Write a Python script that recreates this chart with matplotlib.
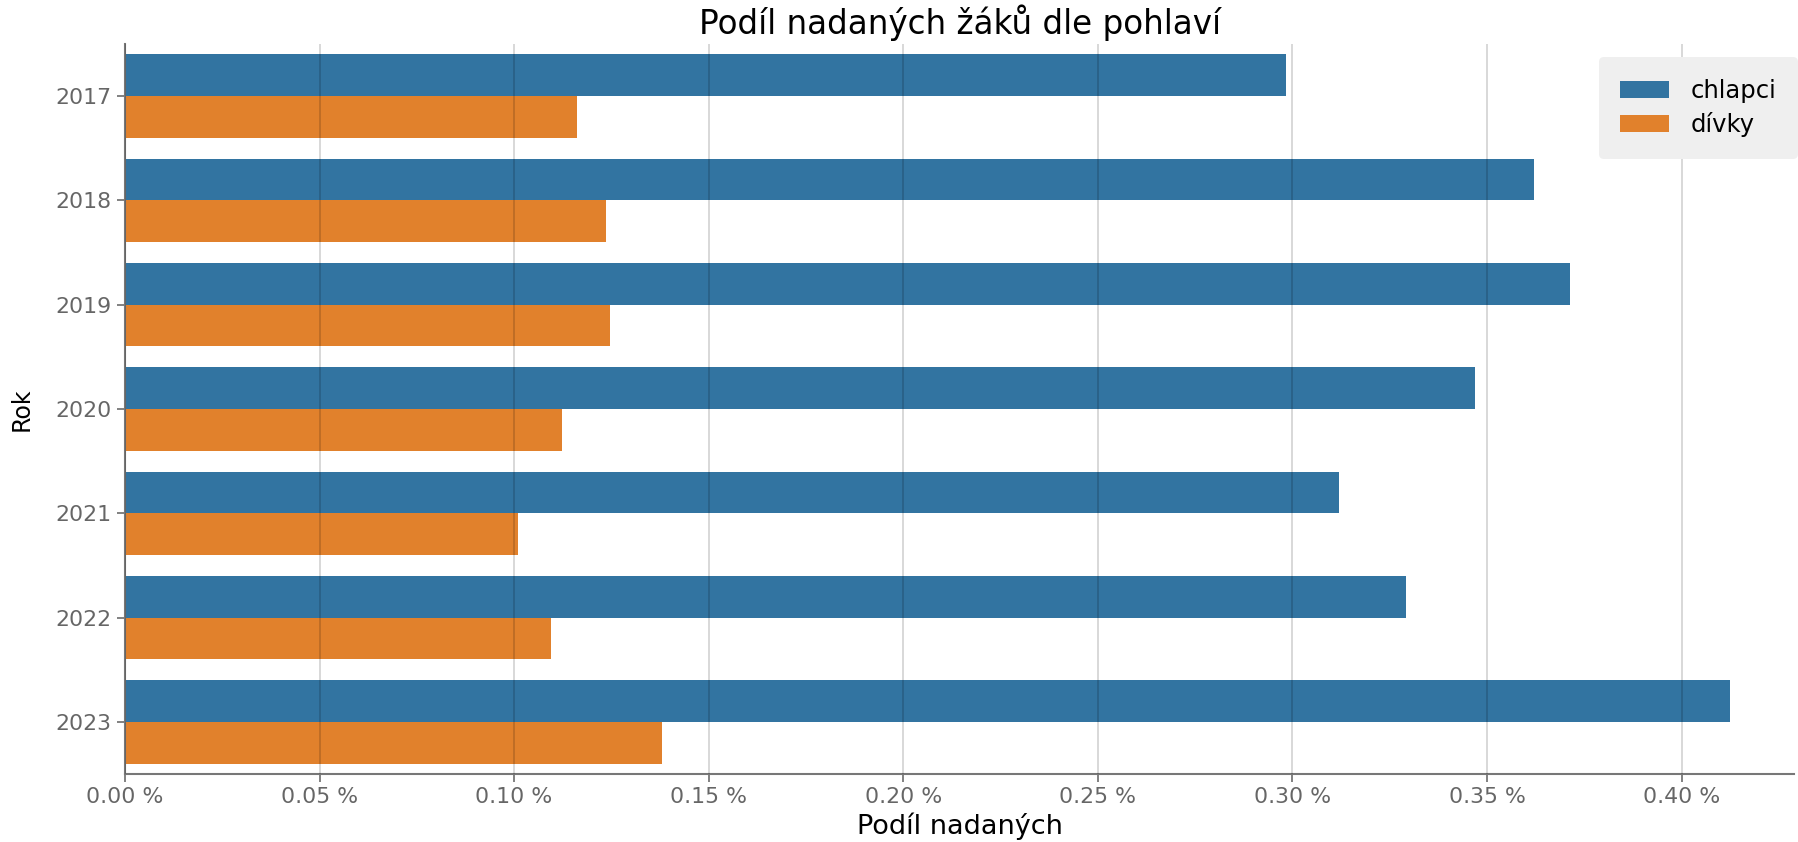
import numpy as np
import matplotlib
matplotlib.use("Agg")
import matplotlib.pyplot as plt
from matplotlib.ticker import FuncFormatter

years = ["2017", "2018", "2019", "2020", "2021", "2022", "2023"]
chlapci = [0.2984, 0.3620, 0.3714, 0.3470, 0.3119, 0.3293, 0.4124]
divky   = [0.1161, 0.1237, 0.1246, 0.1122, 0.1010, 0.1096, 0.1381]
series_names = ["chlapci", "dívky"]
colors = ["#3274a1", "#e1812c"]

plt.rcParams["font.family"] = "DejaVu Sans"

fig = plt.figure(figsize=(17.98, 8.42), dpi=100)
ax = fig.add_axes([0.0695, 0.0808, 0.9285, 0.8669])

y = np.arange(len(years))
h = 0.4
ax.barh(y - h / 2, chlapci, height=h, color=colors[0], label=series_names[0])
ax.barh(y + h / 2, divky, height=h, color=colors[1], label=series_names[1])

ax.set_yticks(y)
ax.set_yticklabels(years)
ax.set_ylim(len(years) - 0.5, -0.5)
ax.set_xlim(0, 0.429)
ax.set_xticks(np.arange(0, 0.41, 0.05))
ax.xaxis.set_major_formatter(FuncFormatter(lambda v, p: f"{v:.2f} %"))

# grid drawn over the bars
ax.set_axisbelow(False)
ax.grid(axis="x", color="#000000", alpha=0.18, linewidth=1.2)
ax.grid(axis="y", visible=False)

for s in ["top", "right"]:
    ax.spines[s].set_visible(False)
for s in ["left", "bottom"]:
    ax.spines[s].set_color("#777777")
    ax.spines[s].set_linewidth(1.5)

ax.tick_params(axis="both", colors="#777777", labelcolor="#666666",
               labelsize=15.8, length=6, width=1.3)

ax.set_title("Podíl nadaných žáků dle pohlaví", fontsize=23.5, pad=7)
ax.set_xlabel("Podíl nadaných", fontsize=19.5, labelpad=4)
ax.set_ylabel("Rok", fontsize=17, labelpad=16)

leg = ax.legend(loc="upper right", bbox_to_anchor=(1.0, 0.932),
                bbox_transform=fig.transFigure, borderaxespad=0, fontsize=17.5,
                frameon=True, facecolor="#efefef", edgecolor="none",
                framealpha=1, borderpad=0.88, handlelength=2.0,
                handletextpad=0.9, labelspacing=0.4)

fig.savefig("out.png", dpi=100)
